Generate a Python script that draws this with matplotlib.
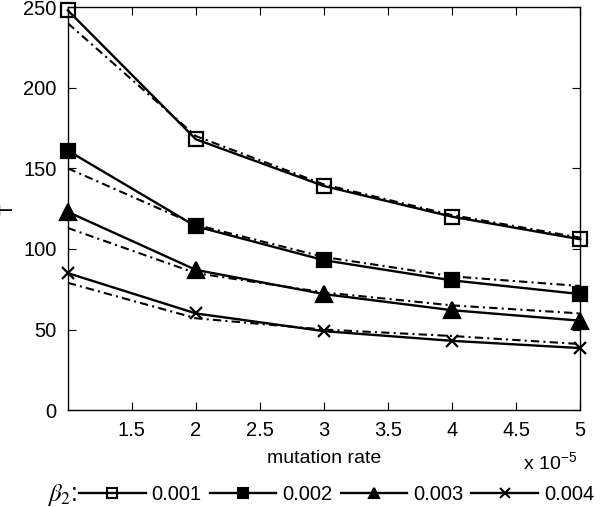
import numpy as np
import matplotlib.pyplot as plt
from matplotlib.lines import Line2D

plt.rcParams['font.family'] = ['Liberation Sans', 'DejaVu Sans']
plt.rcParams['mathtext.fontset'] = 'stix'

mu = [1, 2, 3, 4, 5]  # x 10^-5
labels = ['0.001', '0.002', '0.003', '0.004']
markers = ['s', 's', '^', 'x']
fills = ['none', 'black', 'black', 'black']
msizes = [10, 10, 11, 8]

# simulation (solid)
T_sim = [
    [248, 168, 139, 120, 106],
    [161, 114, 93, 80.5, 72],
    [123, 87, 72, 62, 55.5],
    [85, 60, 49, 43, 38.5],
]
# approximation (dash-dot)
T_approx = [
    [240, 170, 140, 121, 107],
    [150, 115, 95, 83, 77],
    [113, 85, 73, 65, 60],
    [79, 57, 50, 46, 41],
]

fig = plt.figure(figsize=(6.0, 5.07), dpi=100)
ax = fig.add_axes([0.113, 0.191, 0.854, 0.795])

for i in range(4):
    ax.plot(mu, T_approx[i], color='black', linestyle=(0, (4, 2, 1, 2)), linewidth=1.5)
    ax.plot(mu, T_sim[i], color='black', linestyle='-', linewidth=1.7,
            marker=markers[i], markersize=msizes[i],
            markerfacecolor=fills[i], markeredgecolor='black',
            markeredgewidth=1.6, clip_on=False, zorder=3)

ax.set_xlim(1, 5)
ax.set_ylim(0, 250)
ax.set_xticks([1.5, 2, 2.5, 3, 3.5, 4, 4.5, 5])
ax.set_xticklabels(['1.5', '2', '2.5', '3', '3.5', '4', '4.5', '5'])
ax.set_yticks([0, 50, 100, 150, 200, 250])
ax.tick_params(direction='in', top=True, right=True, labelsize=14.5, length=6, pad=8)
for s in ax.spines.values():
    s.set_linewidth(1.0)
ax.set_xlabel('mutation rate', fontsize=14, labelpad=7)
ax.set_ylabel('T', fontsize=14)
ax.yaxis.set_label_coords(-0.1, 0.5)
fig.text(0.962, 0.087, r'x 10$^{\mathregular{-5}}$', fontsize=14, ha='right', va='center')

handles = []
for i in range(4):
    handles.append(Line2D([], [], color='black', linewidth=1.7, marker=markers[i],
                          markersize=7,
                          markerfacecolor=fills[i], markeredgecolor='black',
                          markeredgewidth=1.5))
fig.text(0.078, 0.024, r'$\beta_2$:', fontsize=18, ha='left', va='center')
fig.legend(handles, labels, loc='center left', bbox_to_anchor=(0.132, 0.024), ncol=4,
           frameon=False, fontsize=14.5, handlelength=3.3, handletextpad=0.3,
           columnspacing=0.4, borderaxespad=0, borderpad=0)

fig.savefig('out.png', dpi=100)
